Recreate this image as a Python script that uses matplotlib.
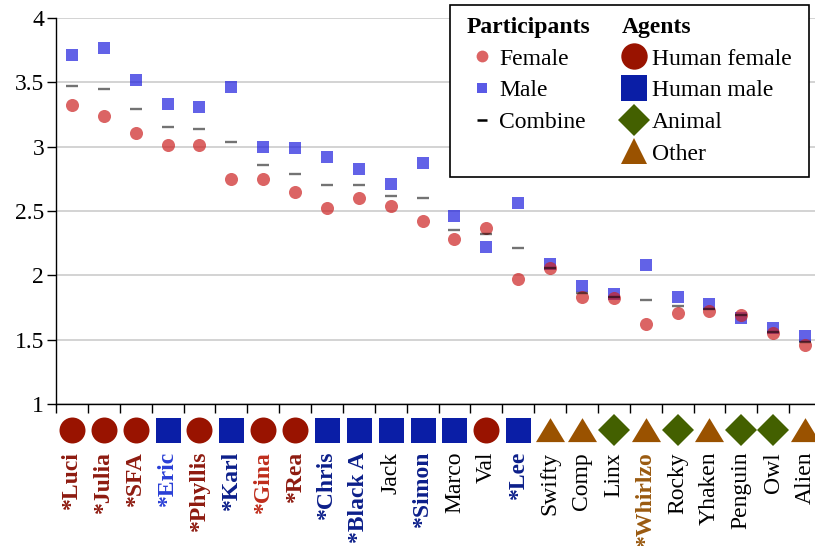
import numpy as np
import matplotlib.pyplot as plt
from matplotlib.lines import Line2D
from matplotlib.patches import Rectangle
from matplotlib.ticker import FormatStrFormatter

plt.rcParams['font.family'] = ['Liberation Serif', 'DejaVu Serif']

# agent names (asterisk = bold/coloured label) and their type
agents = ['*Luci', '*Julia', '*SFA', '*Eric', '*Phyllis', '*Karl', '*Gina', '*Rea',
          '*Chris', '*Black A', 'Jack', '*Simon', 'Marco', 'Val', '*Lee', 'Swifty',
          'Comp', 'Linx', '*Whirlzo', 'Rocky', 'Yhaken', 'Penguin', 'Owl', 'Alien']
agent_type = ['hf', 'hf', 'hf', 'hm', 'hf', 'hm', 'hf', 'hf',
              'hm', 'hm', 'hm', 'hm', 'hm', 'hf', 'hm', 'other',
              'other', 'animal', 'other', 'animal', 'other', 'animal', 'animal', 'other']
label_colors = ['#8e1b10', '#8e1b10', '#8e1b10', '#2a3fd6', '#8e1b10', '#0c1f8a', '#bf2d1c', '#8e1b10',
                '#0c1f8a', '#0c1f8a', 'black', '#0c1f8a', 'black', 'black', '#0c1f8a', 'black',
                'black', 'black', '#9a5a10', 'black', 'black', 'black', 'black', 'black']

# mean ratings by participant gender
female = [3.32, 3.24, 3.11, 3.01, 3.01, 2.75, 2.75, 2.65, 2.52, 2.60, 2.54, 2.42,
          2.28, 2.37, 1.97, 2.06, 1.83, 1.82, 1.62, 1.71, 1.72, 1.69, 1.555, 1.46]
male = [3.71, 3.77, 3.52, 3.33, 3.31, 3.46, 3.00, 2.99, 2.92, 2.83, 2.71, 2.87,
        2.46, 2.22, 2.56, 2.09, 1.92, 1.855, 2.08, 1.83, 1.78, 1.67, 1.59, 1.53]
combined = [3.47, 3.45, 3.29, 3.15, 3.14, 3.04, 2.86, 2.79, 2.70, 2.70, 2.62, 2.60,
            2.35, 2.32, 2.21, 2.06, 1.86, 1.83, 1.81, 1.76, 1.74, 1.69, 1.56, 1.48]

yticks = [1, 1.5, 2, 2.5, 3, 3.5, 4]

# styles for the agent row
triangle = [(-1, -0.8), (1, -0.8), (0, 0.85)]
agent_style = {
    'hf': dict(marker='o', color='#991300', ms=18.7),
    'hm': dict(marker='s', color='#0a1ea6', ms=18.0),
    'animal': dict(marker='D', color='#436000', ms=15.8),
    'other': dict(marker=triangle, color='#9a5200', ms=20.9),
}

fig = plt.figure(figsize=(8.15, 5.46), dpi=100)
ax = fig.add_axes([56 / 815, 142 / 546, 765 / 815, 386 / 546])

x = np.arange(len(agents))
ax.plot(x, male, 's', color='#2020dd', alpha=0.7, ms=8.2, mew=0, zorder=3)
ax.plot(x, female, 'o', color='#cc2222', alpha=0.7, ms=9.4, mew=0, zorder=4)
ax.plot(x, combined, '_', color='black', alpha=0.55, ms=8.6, mew=1.7, zorder=5)

# agent type markers below the axis
for i, t in enumerate(agent_type):
    st = agent_style[t]
    ax.plot(x[i], -0.067, ls='none', marker=st['marker'], color=st['color'],
            ms=st['ms'], mew=0, transform=ax.get_xaxis_transform(), clip_on=False)

ax.set_xlim(-0.5, len(agents) - 0.5)
ax.set_ylim(1, 4)
ax.set_yticks(yticks)
ax.yaxis.set_major_formatter(FormatStrFormatter('%g'))
ax.grid(axis='y', color='#cccccc', lw=1.2)
ax.set_axisbelow(True)

ax.set_xticks(np.arange(-0.5, len(agents) - 0.5), labels=[])
ax.set_xticks(x, minor=True)
ax.set_xticklabels(agents, minor=True, rotation=90, fontsize=17)
ax.tick_params(axis='x', which='minor', length=0, pad=34.5)
ax.tick_params(axis='both', which='major', length=6.5, width=1, labelsize=17, pad=2)
for lbl, c, name in zip(ax.get_xticklabels(minor=True), label_colors, agents):
    lbl.set_color(c)
    if name.startswith('*'):
        lbl.set_fontweight('bold')

for side in ['top', 'right']:
    ax.spines[side].set_visible(False)
for side in ['left', 'bottom']:
    ax.spines[side].set_linewidth(1)

# legend box
fig.patches.append(Rectangle((450 / 815, 1 - 177 / 546), 359 / 815, 172 / 546,
                             transform=fig.transFigure, facecolor='white',
                             edgecolor='black', lw=1.2, zorder=2))

part_handles = [
    Line2D([], [], ls='none', marker='o', color='#dc6464', ms=8.5, mew=0),
    Line2D([], [], ls='none', marker='s', color='#5a5ae6', ms=7.5, mew=0),
    Line2D([], [], ls='none', marker='_', color='black', ms=7.5, mew=1.8),
]
leg1 = fig.legend(part_handles, ['Female', 'Male', 'Combine'], title='Participants',
                  loc='upper left', bbox_to_anchor=(467 / 815, 1 - 17 / 546),
                  frameon=False, fontsize=17, handlelength=1.3, handletextpad=0.05,
                  labelspacing=0.43, borderpad=0, borderaxespad=0, alignment='left',
                  title_fontproperties={'weight': 'bold', 'size': 17})
leg1.set_zorder(6)

agent_handles = []
for t in ['hf', 'hm', 'animal', 'other']:
    st = agent_style[t]
    mk = '^' if t == 'other' else st['marker']
    agent_handles.append(Line2D([], [], ls='none', marker=mk, color=st['color'],
                                ms=19 if t != 'animal' else 16, mew=0))
leg2 = fig.legend(agent_handles, ['Human female', 'Human male', 'Animal', 'Other'],
                  title='Agents', loc='upper left', bbox_to_anchor=(622 / 815, 1 - 17 / 546),
                  frameon=False, fontsize=17, handlelength=1.0, handletextpad=0.27,
                  labelspacing=0.43, borderpad=0, borderaxespad=0, alignment='left',
                  title_fontproperties={'weight': 'bold', 'size': 17})
leg2.set_zorder(6)

fig.savefig('out.png', dpi=100)
